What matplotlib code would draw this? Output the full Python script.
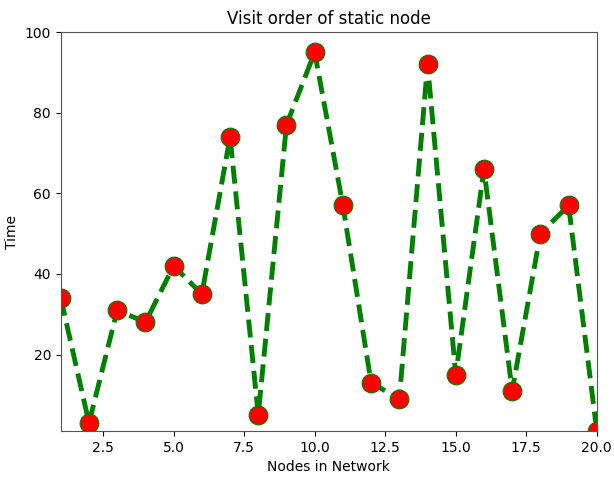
import matplotlib
matplotlib.use("Agg")
import matplotlib.pyplot as plt

nodes = list(range(1, 21))
times = [34, 3, 31, 28, 42, 35, 74, 5, 77, 95, 57, 13, 9, 92, 15, 66, 11, 50, 57, 1]

fig = plt.figure(figsize=(6.14, 4.79), dpi=100)
ax = fig.add_axes([0.099, 0.1, 0.873, 0.833])
ax.plot(nodes, times, color='green', linestyle='dashed', linewidth=3.5,
        marker='o', markerfacecolor='red', markeredgecolor='green',
        markersize=13.5, markeredgewidth=0.8)
ax.set_xlim(1, 20)
ax.set_ylim(1, 100)
ax.set_xticks([2.5, 5.0, 7.5, 10.0, 12.5, 15.0, 17.5, 20.0])
ax.set_yticks([20, 40, 60, 80, 100])
ax.set_xlabel('Nodes in Network')
ax.set_ylabel('Time')
ax.set_title('Visit order of static node')
for s in ax.spines.values():
    s.set_color('#555555')
fig.savefig('out.png', dpi=100)
